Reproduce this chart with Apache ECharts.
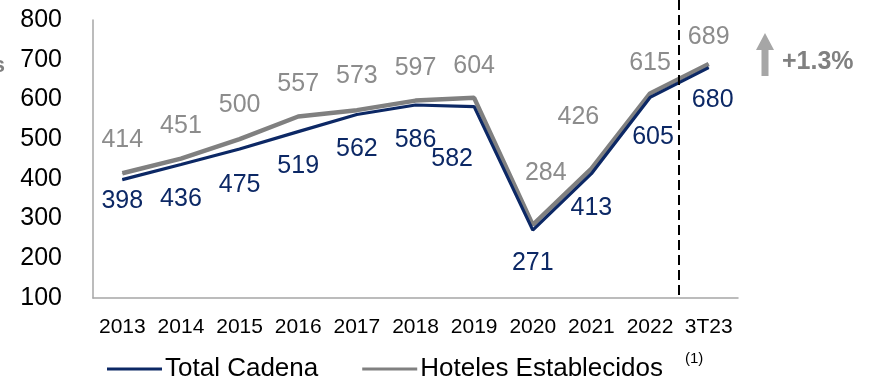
<!DOCTYPE html>
<html>
<head>
<meta charset="utf-8">
<script src="https://cdn.jsdelivr.net/npm/echarts@6/dist/echarts.min.js"></script>
<style>
  html, body { margin: 0; padding: 0; background: #fff; }
  #chart { width: 879px; height: 382px; }
</style>
</head>
<body>
<div id="chart"></div>
<script>
// Categories and series values
const years = ['2013', '2014', '2015', '2016', '2017', '2018', '2019', '2020', '2021', '2022', '3T23'];
const totalCadena = [398, 436, 475, 519, 562, 586, 582, 271, 413, 605, 680];
const hotelesEstablecidos = [414, 451, 500, 557, 573, 597, 604, 284, 426, 615, 689];
const yTicks = [100, 200, 300, 400, 500, 600, 700, 800];
const growthText = '+1.3%';
const footnoteMark = '(1)';

// Label placement (pixel offset of each label's centre from its point)
const totalLabelOffsets = [
  [0, 21], [0, 35], [0, 36], [0, 35], [0, 35], [0, 35],
  [-22, 53], [0, 33], [0, 34], [3, 40], [4, 32]
];
const hotelesLabelOffsets = [
  [0, -33], [0, -32], [0, -34], [0, -32], [0, -34], [0, -33],
  [0, -32], [13, -52], [-13, -51], [0, -30], [0, -27]
];

const NAVY = '#0c2865';
const GREY = '#808080';
const GREY_LABEL = '#8c8c8c';

function withLabels(values, offsets) {
  return values.map((v, i) => ({
    value: v,
    label: { offset: offsets[i] }
  }));
}

const chart = echarts.init(document.getElementById('chart'));

const option = {
  animation: false,
  grid: { left: 93, right: 141, top: 20, bottom: 84, containLabel: false },
  xAxis: {
    type: 'category',
    data: years,
    boundaryGap: true,
    axisLine: { show: true, lineStyle: { color: '#a6a6a6', width: 1.5 } },
    axisTick: { show: false },
    axisLabel: {
      color: '#000',
      fontFamily: '"Liberation Sans Narrow", "Arial Narrow", "Liberation Sans", Arial',
      fontSize: 21,
      margin: 19,
      interval: 0
    },
    splitLine: { show: false }
  },
  yAxis: {
    type: 'value',
    min: yTicks[0],
    max: yTicks[yTicks.length - 1],
    interval: 100,
    axisLine: { show: true, lineStyle: { color: '#a6a6a6', width: 1.5 } },
    axisTick: { show: false },
    splitLine: { show: false },
    axisLabel: {
      color: '#000',
      fontFamily: '"Liberation Sans", Arial',
      fontSize: 25,
      margin: 31
    }
  },
  legend: {
    left: 107,
    top: 356,
    padding: 0,
    itemWidth: 55,
    itemHeight: 3,
    itemGap: 44,
    icon: 'rect',
    textStyle: {
      color: '#000',
      fontFamily: '"Liberation Sans", Arial',
      fontSize: 26,
      padding: [0, 0, 0, -2]
    },
    data: ['Total Cadena', 'Hoteles Establecidos']
  },
  series: [
    {
      name: 'Hoteles Establecidos',
      type: 'line',
      data: withLabels(hotelesEstablecidos, hotelesLabelOffsets),
      symbol: 'circle',
      symbolSize: 1,
      lineStyle: { color: GREY, width: 4.5 },
      itemStyle: { color: GREY },
      z: 2,
      label: {
        show: true,
        position: 'inside',
        color: GREY_LABEL,
        fontFamily: '"Liberation Sans", Arial',
        fontSize: 25
      }
    },
    {
      name: 'Total Cadena',
      type: 'line',
      data: withLabels(totalCadena, totalLabelOffsets),
      symbol: 'circle',
      symbolSize: 1,
      lineStyle: { color: NAVY, width: 3.2 },
      itemStyle: { color: NAVY },
      z: 3,
      label: {
        show: true,
        position: 'inside',
        color: NAVY,
        fontFamily: '"Liberation Sans", Arial',
        fontSize: 25
      }
    }
  ]
};

chart.setOption(option);

// Overlay: dashed separator between the last full year and the partial year,
// growth arrow with its percentage, and the footnote marker on the legend.
const xPrev = chart.convertToPixel({ xAxisIndex: 0 }, years[years.length - 2]);
const xLast = chart.convertToPixel({ xAxisIndex: 0 }, years[years.length - 1]);
const sepX = Math.round((xPrev + xLast) / 2);
const axisBottom = chart.convertToPixel({ yAxisIndex: 0 }, yTicks[0]);

chart.setOption({
  graphic: [
    {
      type: 'line',
      shape: { x1: sepX, y1: 0, x2: sepX, y2: axisBottom },
      style: { stroke: '#000', lineWidth: 2, lineDash: [10, 5] },
      z: 10
    },
    {
      type: 'polygon',
      shape: {
        points: [
          [765, 33], [774, 50], [768.5, 50], [768.5, 76],
          [761.5, 76], [761.5, 50], [756, 50]
        ]
      },
      style: { fill: '#a6a6a6' },
      z: 10
    },
    {
      type: 'text',
      x: 782,
      y: 62,
      style: {
        text: growthText,
        fill: GREY,
        font: 'bold 25px "Liberation Sans", Arial',
        textAlign: 'left',
        textVerticalAlign: 'middle'
      },
      z: 10
    },
    {
      type: 'text',
      x: 5,
      y: 66,
      style: {
        text: 's',
        fill: GREY,
        font: 'bold 22px "Liberation Sans", Arial',
        textAlign: 'right',
        textVerticalAlign: 'middle'
      },
      z: 10
    },
    {
      type: 'text',
      x: 685,
      y: 359,
      style: {
        text: footnoteMark,
        fill: '#000',
        font: '15px "Liberation Sans", Arial',
        textAlign: 'left',
        textVerticalAlign: 'middle'
      },
      z: 10
    }
  ]
});
</script>
</body>
</html>
